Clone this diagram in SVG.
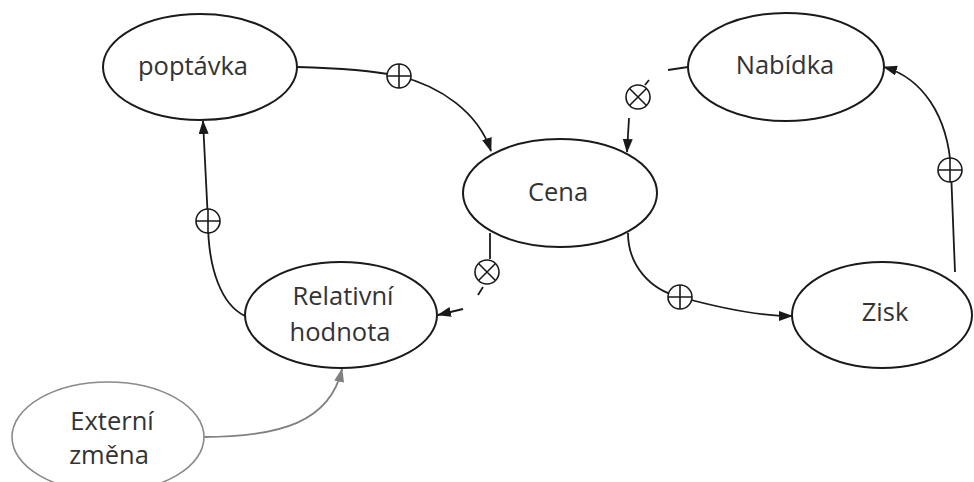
<svg xmlns="http://www.w3.org/2000/svg" xmlns:xlink="http://www.w3.org/1999/xlink" width="974" height="482" viewBox="0 0 974 482">
<style>
.node{fill:#fff;stroke:#1a1a1a;stroke-width:2}
.ext{fill:#fff;stroke:#8a8a8a;stroke-width:1.6}
.lbl{font-family:"Open Sans","Noto Sans",sans-serif;font-size:25.5px;fill:#333;text-anchor:middle}
.con{fill:none;stroke:#1a1a1a;stroke-width:1.8}
.gcon{fill:none;stroke:#808080;stroke-width:1.8}
.sym{fill:#fff;stroke:#1a1a1a;stroke-width:1.6}
</style>
<defs>
<marker id="ah" markerUnits="userSpaceOnUse" markerWidth="14" markerHeight="10" refX="13" refY="5" orient="auto"><path d="M0,0 L14,5 L0,10 z" fill="#1a1a1a"/></marker>
<marker id="ahg" markerUnits="userSpaceOnUse" markerWidth="14" markerHeight="10" refX="13" refY="5" orient="auto"><path d="M0,0 L14,5 L0,10 z" fill="#808080"/></marker>
<g id="plus"><circle class="sym" r="12"/><path class="sym" d="M-12,0 H12 M0,-12 V12"/></g>
<g id="times"><circle class="sym" r="12"/><path class="sym" d="M-8.5,-8.5 L8.5,8.5 M8.5,-8.5 L-8.5,8.5"/></g>
</defs>
<g id="connectors">
<path class="con" d="M297,67 C340,68 370,70 399,76 C440,86 478,112 491,151" marker-end="url(#ah)"/>
<use href="#plus" xlink:href="#plus" x="399" y="76"/>
<path class="con" d="M668,70 L688,67"/>
<path class="con" d="M645,85 L649,80"/>
<use href="#times" xlink:href="#times" x="638" y="97"/>
<path class="con" d="M629,118 L627,152" marker-end="url(#ah)"/>
<path class="con" d="M490,233 L490,259"/>
<use href="#times" xlink:href="#times" x="487" y="272"/>
<path class="con" d="M483,287 L478,295"/>
<path class="con" d="M463,309 L438,315" marker-end="url(#ah)"/>
<path class="con" d="M245,316 C222,305 208,270 208,221 L203,121" marker-end="url(#ah)"/>
<use href="#plus" xlink:href="#plus" x="208" y="221"/>
<path class="con" d="M628,233 C628,265 650,290 680,297 C720,308 760,316 792,316" marker-end="url(#ah)"/>
<use href="#plus" xlink:href="#plus" x="680" y="297"/>
<path class="con" d="M955,272 L951,170 C948,115 922,78 884,67" marker-end="url(#ah)"/>
<use href="#plus" xlink:href="#plus" x="950" y="170"/>
<path class="gcon" d="M203,437 C280,437 330,422 342,369" marker-end="url(#ahg)"/>
</g>
<g id="poptavka"><ellipse class="node" cx="200" cy="67" rx="97" ry="53"/><text class="lbl" x="193" y="75">poptávka</text></g>
<g id="nabidka"><ellipse class="node" cx="786" cy="67" rx="98" ry="54"/><text class="lbl" x="785" y="74">Nabídka</text></g>
<g id="cena"><ellipse class="node" cx="560" cy="193" rx="97" ry="54"/><text class="lbl" x="558" y="201">Cena</text></g>
<g id="relativni"><ellipse class="node" cx="341" cy="315" rx="96" ry="53"/><text class="lbl" x="343" y="305">Relativní</text><text class="lbl" x="340" y="341">hodnota</text></g>
<g id="zisk"><ellipse class="node" cx="882" cy="315" rx="90" ry="53"/><text class="lbl" x="885" y="321">Zisk</text></g>
<g id="externi"><ellipse class="ext" cx="108" cy="437" rx="96" ry="55"/><text class="lbl" x="112" y="430">Externí</text><text class="lbl" x="109" y="464">změna</text></g>
</svg>
